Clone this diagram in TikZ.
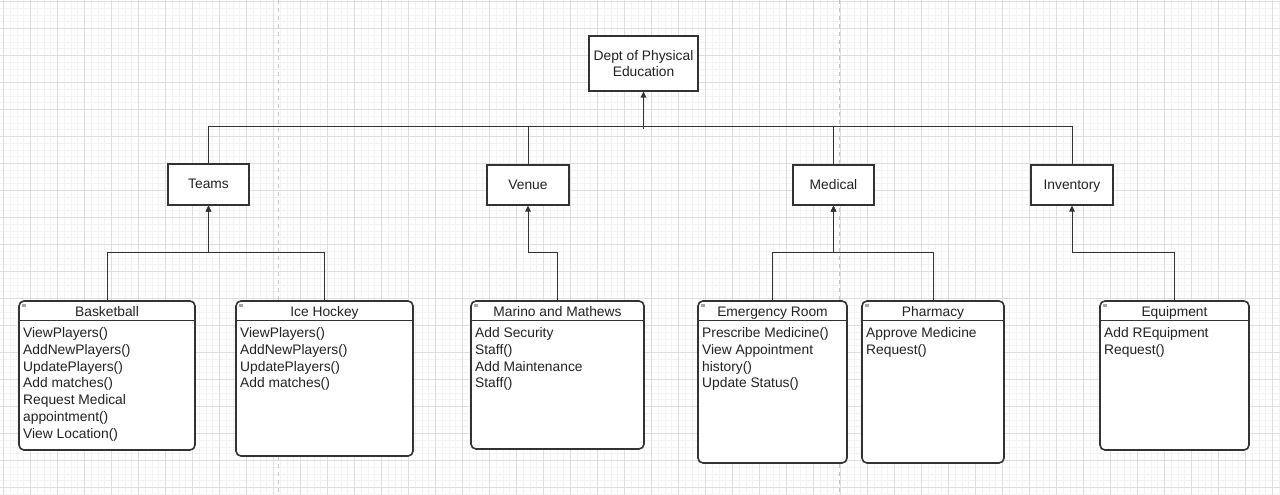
\documentclass[tikz,border=0pt]{standalone}
\usepackage{fontspec}
\setmainfont{Liberation Sans}
\usetikzlibrary{arrows.meta,calc}
\definecolor{lineC}{HTML}{333333}
\definecolor{textC}{HTML}{222222}
\definecolor{minorG}{HTML}{F3F3F3}
\definecolor{majorG}{HTML}{DEDEDE}
\definecolor{pageG}{HTML}{C4C4C4}
\newcommand{\clsbox}[7]{%
  \node[cls, minimum width={#4-#2}, minimum height={#5-#3}] (#1) at ({(#2+#4)/2},{(#3+#5)/2}) {};
  \draw[clsline] ($(#1.north west)+(0,20)$) -- ($(#1.north east)+(0,20)$);
  \fill[gray!70] ({#2+3},{#3+3}) rectangle ({#2+7},{#3+6});
  \node[clstitle] (#1-t) at ({(#2+#4)/2},{#3+15}) {#6};
  \node[clsbody] (#1-b) at ({#2+4},{#3+25}) {\strut #7};
}
\begin{document}
\begin{tikzpicture}[x=1pt,y=-1pt,
  basefont/.style={font=\fontsize{13.8}{16.7}\selectfont, text=textC},
  simple/.style={draw=lineC, line width=1.1pt, fill=white, rectangle, inner sep=0pt, basefont, text height=11pt, text depth=2.5pt, align=center},
  cls/.style={draw=lineC, line width=1.6pt, fill=white, rectangle, rounded corners=5pt, inner sep=0pt},
  clsline/.style={draw=lineC, line width=1.4pt},
  clstitle/.style={anchor=base, inner sep=0pt, basefont},
  clsbody/.style={anchor=north west, inner sep=0pt, basefont, align=left},
  conn/.style={draw=lineC, line width=1pt},
  arr/.style={conn, -{Triangle[length=6pt,width=5.5pt]}},
  minorgrid/.style={draw=minorG, line width=0.7pt},
  majorgrid/.style={draw=majorG, line width=0.8pt},
  pagebreak/.style={draw=pageG, line width=1pt, dash pattern=on 4pt off 4pt}
]
\useasboundingbox (0,0) rectangle (1280,495);
\fill[white] (0,0) rectangle (1280,495);
% grid
\foreach \i in {-1,...,190} {\draw[minorgrid] ({3.5+\i*6.75},0) -- ({3.5+\i*6.75},495);}
\foreach \j in {-1,...,74} {\draw[minorgrid] (0,{1.5+\j*6.75}) -- (1280,{1.5+\j*6.75});}
\foreach \i in {0,...,47} {\draw[majorgrid] ({3.5+\i*27},0) -- ({3.5+\i*27},495);}
\foreach \j in {0,...,18} {\draw[majorgrid] (0,{1.5+\j*27}) -- (1280,{1.5+\j*27});}
\draw[pagebreak] (278,0) -- (278,495);
\draw[pagebreak] (839,0) -- (839,495);

% top level
\node[simple, minimum width=109pt, minimum height=55pt, text height=, text depth=] (dept) at (643.5,63.5) {Dept of Physical\\Education};
\node[simple, minimum width=81pt, minimum height=41pt] (teams) at (208.5,184.5) {Teams};
\node[simple, minimum width=82pt, minimum height=40pt] (venue) at (528,185) {Venue};
\node[simple, minimum width=81pt, minimum height=40pt] (medical) at (833.5,185) {Medical};
\node[simple, minimum width=82pt, minimum height=40pt] (inventory) at (1072,185) {Inventory};
\path[draw=lineC, line width=1.1pt] (dept.north west) rectangle (dept.south east);

% connectors to dept
\draw[conn] (teams.north) -- ++(0,-37) -| (dept.south);
\draw[conn] (venue.north) -- ++(0,-38) -| (dept.south);
\draw[conn] (medical.north) -- ++(0,-38) -| (dept.south);
\draw[conn] (inventory.north) -- ++(0,-38) -| (dept.south);
\draw[arr, line width=1.4pt] ($(dept.south)+(0,37)$) -- (dept.south);

% class boxes
\clsbox{basketball}{19}{301}{195}{450}{Basketball}{ViewPlayers()\\AddNewPlayers()\\UpdatePlayers()\\Add matches()\\Request Medical\\appointment()\\View Location()}
\clsbox{icehockey}{236}{301}{413}{456}{Ice Hockey}{ViewPlayers()\\AddNewPlayers()\\UpdatePlayers()\\Add matches()}
\clsbox{marino}{471}{301}{644}{449}{Marino and Mathews}{Add Security\\Staff()\\Add Maintenance\\Staff()}
\clsbox{er}{698}{301}{847}{463}{Emergency Room}{Prescribe Medicine()\\View Appointment\\history()\\Update Status()}
\clsbox{pharmacy}{862}{301}{1004}{463}{Pharmacy}{Approve Medicine\\Request()}
\clsbox{equipment}{1100}{301}{1249}{450}{Equipment}{Add REquipment\\Request()}

% connectors to second level
\draw[arr] (basketball.north) -- ++(0,-48) -| (teams.south);
\draw[arr] (icehockey.north) -- ++(0,-48) -| (teams.south);
\draw[arr] (marino.north) -- ++(0,-48) -| (venue.south);
\draw[arr] (er.north) -- ++(0,-48) -| (medical.south);
\draw[arr] (pharmacy.north) -- ++(0,-48) -| (medical.south);
\draw[arr] (equipment.north) -- ++(0,-48) -| (inventory.south);
\end{tikzpicture}
\end{document}
